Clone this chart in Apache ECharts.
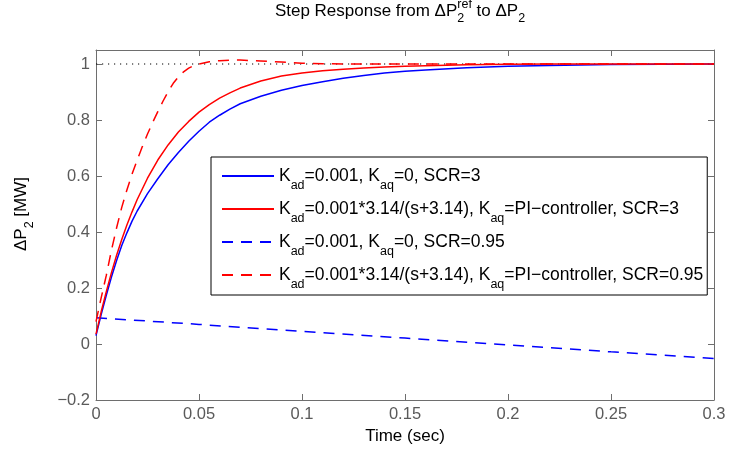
<!DOCTYPE html>
<html><head><meta charset="utf-8">
<script src="https://cdn.jsdelivr.net/npm/echarts@6/dist/echarts.min.js"></script>
<style>html,body{margin:0;padding:0;background:#fff}#c{width:729px;height:452px}</style>
</head><body><div id="c"></div>
<script>
// ---- data ----
const time = [0, 0.0025, 0.005, 0.0075, 0.01, 0.0125, 0.015, 0.0175, 0.02, 0.025, 0.03, 0.035, 0.04, 0.045, 0.05, 0.055, 0.06, 0.065, 0.07, 0.08, 0.09, 0.1, 0.11, 0.12, 0.13, 0.14, 0.15, 0.16, 0.18, 0.2, 0.22, 0.25, 0.3];
const blueSolid = [0.03, 0.105, 0.174, 0.239, 0.298, 0.352, 0.397, 0.439, 0.475, 0.537, 0.590, 0.640, 0.684, 0.724, 0.760, 0.792, 0.817, 0.839, 0.858, 0.885, 0.906, 0.923, 0.937, 0.949, 0.959, 0.968, 0.974, 0.979, 0.987, 0.992, 0.995, 0.998, 1.0];
const redSolid = [0.035, 0.115, 0.187, 0.255, 0.317, 0.373, 0.425, 0.472, 0.516, 0.592, 0.657, 0.711, 0.757, 0.795, 0.828, 0.855, 0.878, 0.897, 0.914, 0.939, 0.957, 0.968, 0.976, 0.981, 0.986, 0.989, 0.992, 0.994, 0.997, 0.999, 1.0, 1.0, 1.0];
const redDashedTime = [0, 0.0025, 0.005, 0.0075, 0.01, 0.0125, 0.015, 0.0175, 0.02, 0.0225, 0.025, 0.0275, 0.03, 0.0325, 0.035, 0.0375, 0.04, 0.0425, 0.045, 0.0475, 0.05, 0.055, 0.06, 0.065, 0.07, 0.08, 0.09, 0.1, 0.11, 0.12, 0.15, 0.2, 0.3];
const redDashed = [0.08, 0.165, 0.245, 0.335, 0.415, 0.488, 0.55, 0.607, 0.657, 0.705, 0.75, 0.791, 0.83, 0.867, 0.901, 0.931, 0.954, 0.972, 0.985, 0.994, 1.0, 1.008, 1.012, 1.014, 1.014, 1.011, 1.007, 1.003, 1.001, 1.0, 1.0, 1.0, 1.0];
const blueDashedTime = [0, 0.05, 0.1, 0.15, 0.2, 0.25, 0.3];
const blueDashed = [0.094, 0.070, 0.045, 0.021, -0.003, -0.028, -0.052];
const refTime = [0, 0.3];
const refValue = [1, 1];
const seriesNames = ['Kad=0.001, Kaq=0, SCR=3', 'Kad=0.001*3.14/(s+3.14), Kaq=PI-controller, SCR=3', 'Kad=0.001, Kaq=0, SCR=0.95', 'Kad=0.001*3.14/(s+3.14), Kaq=PI-controller, SCR=0.95'];
const legendRich = [
  '{n|K}{s|ad}{n|=0.001, K}{s|aq}{n|=0, SCR=3}',
  '{n|K}{s|ad}{n|=0.001*3.14/(s+3.14), K}{s|aq}{n|=PI\u2212controller, SCR=3}',
  '{n|K}{s|ad}{n|=0.001, K}{s|aq}{n|=0, SCR=0.95}',
  '{n|K}{s|ad}{n|=0.001*3.14/(s+3.14), K}{s|aq}{n|=PI\u2212controller, SCR=0.95}'
];
const xTicks = {min: 0, max: 0.3, interval: 0.05};
const yTicks = {min: -0.2, max: 1.05, interval: 0.2};

// ---- chart ----
const FONT = '"Liberation Sans", Arial, Helvetica, sans-serif';
const AX = '#6e6e6e';
const LBL = '#5a5a5a';
const DASH = [11, 8];
const chart = echarts.init(document.getElementById('c'), null, {renderer: 'canvas'});

const pair = (xs, ys) => xs.map((x, i) => [x, ys[i]]);

const mctx = document.createElement('canvas').getContext('2d');
function tw(t, size) { mctx.font = size + 'px ' + FONT; return mctx.measureText(t).width; }
const TS = 17, SS = 12.5;
const wMain = tw('Step Response from \u0394P', TS);
const wSup = Math.max(tw('ref', SS), tw('2', SS));
const wTo = tw(' to \u0394P', TS);
const wSub = tw('2', SS);
const total = wMain + wSup + wTo + wSub;
const x0 = 400 - total / 2;
const yMid = 11;

const tStyle = (text, size) => ({text: text, font: size + 'px ' + FONT, fill: '#000', align: 'left', verticalAlign: 'middle'});

const lineCommon = {type: 'line', symbol: 'none', showSymbol: false, smooth: false, animation: false};

function xAxisCfg(pos, labels) {
  return {
    type: 'value', position: pos, min: xTicks.min, max: xTicks.max, interval: xTicks.interval,
    axisLine: {show: true, onZero: false, lineStyle: {color: AX, width: 1}},
    axisTick: {show: true, inside: true, length: 6, lineStyle: {color: AX}},
    axisLabel: {show: labels, color: LBL, fontSize: 16.5, fontFamily: FONT, margin: 6},
    splitLine: {show: false}
  };
}
function yAxisCfg(pos, labels) {
  return {
    type: 'value', position: pos, min: yTicks.min, max: yTicks.max, interval: yTicks.interval,
    axisLine: {show: true, onZero: false, lineStyle: {color: AX, width: 1}},
    axisTick: {show: true, inside: true, length: 6, lineStyle: {color: AX}},
    axisLabel: {show: labels, color: LBL, fontSize: 16.5, fontFamily: FONT, margin: 6,
      formatter: v => (Math.abs(v - 1.05) < 1e-6) ? '' : String(+v.toFixed(2)).replace('-', '\u2212')},
    splitLine: {show: false}
  };
}

const xa = xAxisCfg('bottom', true);
xa.name = 'Time (sec)';
xa.nameLocation = 'middle';
xa.nameGap = 28;
xa.nameTextStyle = {color: '#000', fontSize: 17, fontFamily: FONT};

const option = {
  animation: false,
  backgroundColor: '#fff',
  grid: {left: 96, right: 15, top: 50, bottom: 52, containLabel: false},
  xAxis: [xa, xAxisCfg('top', false)],
  yAxis: [yAxisCfg('left', true), yAxisCfg('right', false)],
  legend: {
    orient: 'vertical', left: 211, top: 157,
    data: seriesNames,
    itemWidth: 52, itemHeight: 14, itemGap: 8,
    padding: [10, 4, 4, 10],
    backgroundColor: '#fff', borderColor: '#000', borderWidth: 1, borderRadius: 0,
    itemStyle: {opacity: 0},
    textStyle: {color: '#000', fontFamily: FONT, fontSize: 17.5,
      rich: {n: {fontSize: 17.5, fontFamily: FONT, lineHeight: 32, color: '#000'},
             s: {fontSize: 12.5, fontFamily: FONT, lineHeight: 12, verticalAlign: 'bottom', color: '#000'}}},
    formatter: name => legendRich[seriesNames.indexOf(name)],
    selectedMode: false
  },
  graphic: [
    {type: 'text', x: x0, y: yMid, style: tStyle('Step Response from \u0394P', TS), silent: true},
    {type: 'text', x: x0 + wMain, y: 4.5, style: tStyle('ref', SS), silent: true},
    {type: 'text', x: x0 + wMain, y: 18.5, style: tStyle('2', SS), silent: true},
    {type: 'text', x: x0 + wMain + wSup, y: yMid, style: tStyle(' to \u0394P', TS), silent: true},
    {type: 'text', x: x0 + wMain + wSup + wTo, y: 18.5, style: tStyle('2', SS), silent: true},
    {type: 'text', x: 21, y: 214, rotation: Math.PI / 2, silent: true,
      style: {text: '{n|\u0394P}{s|2}{n| [MW]}', align: 'center', verticalAlign: 'middle', fill: '#000',
        font: '17px ' + FONT,
        rich: {n: {fontSize: 17, fontFamily: FONT, lineHeight: 30, fill: '#000'},
               s: {fontSize: 12.5, fontFamily: FONT, lineHeight: 12, verticalAlign: 'bottom', fill: '#000'}}}}
  ],
  series: [
    Object.assign({}, lineCommon, {name: 'ref', data: pair(refTime, refValue), z: 1,
      lineStyle: {color: '#000', width: 1.2, type: [1.2, 4.8]}, itemStyle: {color: '#000'}}),
    Object.assign({}, lineCommon, {name: seriesNames[0], data: pair(time, blueSolid), z: 3,
      lineStyle: {color: '#0000ff', width: 1.5, type: 'solid'}, itemStyle: {color: '#0000ff'}}),
    Object.assign({}, lineCommon, {name: seriesNames[1], data: pair(time, redSolid), z: 4,
      lineStyle: {color: '#ff0000', width: 1.5, type: 'solid'}, itemStyle: {color: '#ff0000'}}),
    Object.assign({}, lineCommon, {name: seriesNames[2], data: pair(blueDashedTime, blueDashed), z: 3,
      lineStyle: {color: '#0000ff', width: 1.5, type: DASH}, itemStyle: {color: '#0000ff'}}),
    Object.assign({}, lineCommon, {name: seriesNames[3], data: pair(redDashedTime, redDashed), z: 4,
      lineStyle: {color: '#ff0000', width: 1.5, type: DASH}, itemStyle: {color: '#ff0000'}})
  ]
};
chart.setOption(option);
</script>
</body></html>
